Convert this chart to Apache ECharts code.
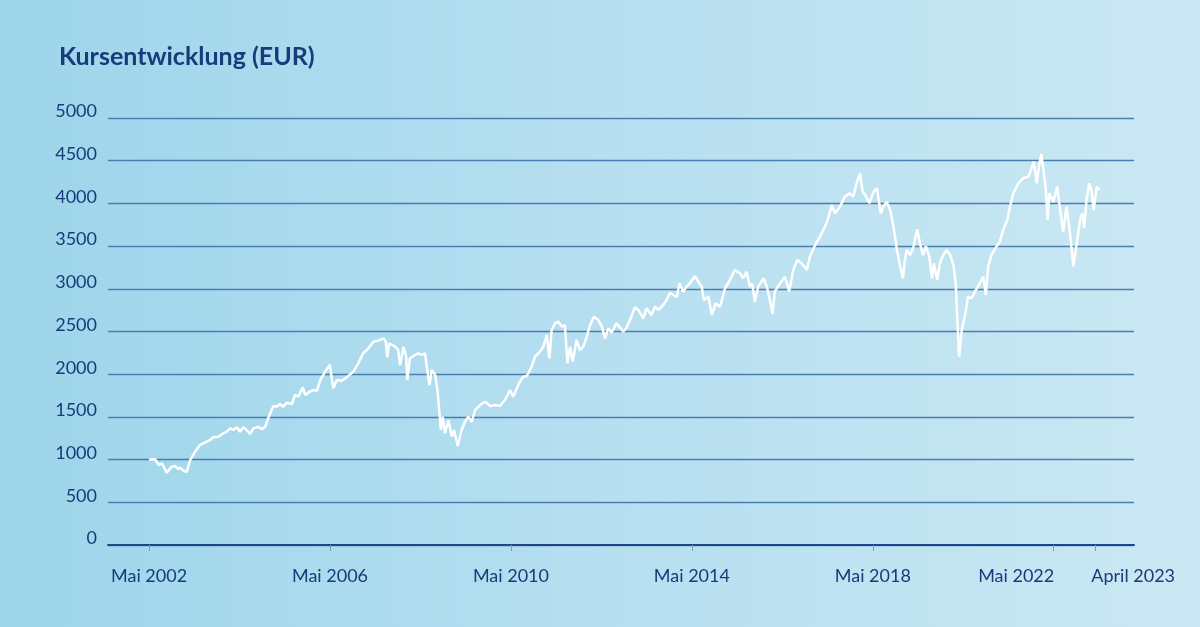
<!DOCTYPE html>
<html>
<head>
<meta charset="utf-8">
<script src="https://cdn.jsdelivr.net/npm/echarts@6/dist/echarts.min.js"></script>
<style>
  html, body { margin: 0; padding: 0; }
  #chart { width: 1200px; height: 627px; background: linear-gradient(90deg, #9dd5ea 0%, #b4def0 45%, #cae8f3 100%); }
</style>
</head>
<body>
<div id="chart"></div>
<script>
// Months since Mai 2002 (0 = Mai 2002)
const months = [
  0, 1.6, 2.5, 3.4, 4.7, 6.0, 6.9, 7.8, 8.2, 9.1, 10.0, 10.9, 12.2, 13.5, 15.3, 16.2, 17.0, 18.4, 19.7, 20.6,
  21.5, 22.4, 23.3, 24.1, 25.0, 25.9, 26.8, 27.7, 29.0, 29.9, 30.8, 31.6, 32.5, 33.0, 33.9, 34.7, 35.6, 36.5, 37.9, 38.7,
  39.6, 40.8, 41.4, 42.7, 43.6, 44.5, 45.4, 46.7, 48.0, 48.5, 48.9, 49.8, 51.1, 52.4, 54.2, 55.5, 56.8, 58.2, 59.5, 60.8,
  62.2, 62.8, 63.2, 63.7, 65.3, 66.1, 66.6, 67.5, 68.2, 68.5, 69.2, 70.6, 71.4, 72.3, 73.2, 73.8, 74.4, 75.0, 75.9, 76.5,
  77.0, 77.4, 77.9, 78.5, 79.4, 80.3, 80.9, 81.9, 82.9, 83.8, 84.7, 85.6, 86.5, 87.8, 89.1, 90.5, 91.8, 93.1, 94.4, 95.8,
  96.6, 98.2, 99.3, 100.2, 100.6, 101.5, 102.4, 103.7, 104.6, 105.5, 106.2, 106.8, 107.7, 108.6, 109.5, 110.3, 111.0, 111.7, 112.4, 113.4,
  114.3, 115.2, 116.1, 117.0, 118.0, 119.2, 120.1, 121.0, 121.8, 122.7, 124.0, 124.9, 125.8, 126.7, 127.6, 128.9, 129.8, 131.1, 132.0, 133.3,
  134.2, 135.1, 136.4, 137.3, 138.2, 139.1, 140.0, 140.7, 141.7, 142.6, 143.5, 144.8, 145.7, 146.6, 147.2, 148.4, 149.3, 150.3, 151.5, 152.8,
  154.1, 155.4, 156.8, 157.6, 158.5, 159.4, 160.0, 160.7, 161.6, 163.0, 163.9, 164.7, 165.4, 166.0, 167.4, 168.7, 169.8, 170.9, 172.0, 173.1,
  174.5, 175.3, 176.7, 178.0, 179.3, 180.2, 181.1, 182.0, 183.3, 184.6, 185.9, 186.8, 187.7, 188.6, 189.3, 190.0, 191.1, 192.2, 193.1, 194.1,
  194.8, 195.7, 196.6, 197.5, 198.4, 199.3, 200.0, 200.5, 201.0, 201.9, 202.8, 203.8, 204.5, 205.3, 206.1, 207.0, 207.7, 208.2, 209.1, 209.8,
  210.7, 211.6, 212.5, 213.4, 214.0, 214.4, 214.9, 215.6, 216.4, 217.3, 218.2, 219.1, 220.4, 221.3, 222.0, 222.6, 223.5, 224.8, 225.7, 226.6,
  227.7, 228.4, 229.3, 230.6, 231.9, 233.3, 234.1, 234.7, 235.5, 236.2, 236.7, 237.4, 237.9, 238.4, 238.8, 239.9, 240.9, 241.6, 242.5, 243.4,
  244.1, 244.7, 245.2, 246.1, 247.0, 247.6, 248.1, 248.7, 249.4, 250.0, 250.6, 251.4, 252.1
];
// Kurs in EUR
const prices = [
  1000, 1005, 937, 957, 847, 917, 925, 886, 910, 870, 858, 995, 1093, 1171, 1210, 1230, 1261, 1268, 1308, 1327,
  1366, 1347, 1378, 1327, 1378, 1347, 1300, 1366, 1385, 1355, 1385, 1484, 1581, 1628, 1620, 1651, 1620, 1666, 1651, 1757,
  1737, 1847, 1757, 1796, 1815, 1805, 1932, 2030, 2110, 1932, 1835, 1932, 1924, 1963, 2030, 2128, 2245, 2303, 2381, 2393,
  2420, 2381, 2198, 2362, 2322, 2283, 2108, 2322, 2205, 1932, 2186, 2225, 2245, 2225, 2245, 2049, 1874, 2049, 1991, 1815,
  1561, 1347, 1502, 1308, 1464, 1268, 1347, 1159, 1347, 1444, 1502, 1444, 1581, 1639, 1678, 1628, 1639, 1628, 1698, 1815,
  1737, 1900, 1971, 1979, 2010, 2088, 2205, 2264, 2322, 2459, 2186, 2518, 2596, 2615, 2557, 2576, 2128, 2322, 2147, 2401,
  2283, 2322, 2440, 2576, 2674, 2635, 2557, 2420, 2537, 2486, 2596, 2549, 2498, 2549, 2635, 2783, 2752, 2655, 2772, 2693,
  2791, 2752, 2810, 2869, 2954, 2927, 2900, 3065, 2966, 3025, 3065, 3150, 3083, 3025, 2869, 2908, 2693, 2830, 2791, 3006,
  3103, 3220, 3181, 3123, 3200, 3025, 3060, 2849, 3025, 3123, 3025, 2869, 2705, 2966, 3065, 3142, 2966, 3220, 3337, 3298,
  3220, 3376, 3513, 3610, 3727, 3826, 3981, 3884, 3962, 4079, 4118, 4079, 4235, 4352, 4137, 4100, 4001, 4137, 4177, 3884,
  3962, 4020, 3923, 3727, 3454, 3259, 3123, 3337, 3454, 3396, 3493, 3697, 3533, 3396, 3501, 3376, 3123, 3298, 3103, 3298,
  3396, 3454, 3396, 3279, 3065, 2674, 2205, 2518, 2674, 2908, 2889, 2966, 3065, 3142, 2927, 3259, 3396, 3493, 3552, 3688,
  3806, 3962, 4118, 4235, 4294, 4313, 4411, 4489, 4235, 4469, 4579, 4352, 4157, 3806, 4118, 4020, 4196, 3962, 3669, 3962,
  3727, 3493, 3259, 3533, 3806, 3884, 3709, 4040, 4235, 4157, 3923, 4196, 4157
];
const tickMonths = [0, 48, 96, 144, 192, 240, 251];
const tickLabels = ['Mai 2002', 'Mai 2006', 'Mai 2010', 'Mai 2014', 'Mai 2018', 'Mai 2022', 'April 2023'];
const yTicks = [0, 500, 1000, 1500, 2000, 2500, 3000, 3500, 4000, 4500, 5000];

const navy = '#173b7b';
const seriesData = months.map((m, i) => [m, prices[i]]);
const chart = echarts.init(document.getElementById('chart'), null, { renderer: 'canvas' });
const labelFont = { color: navy, fontFamily: 'Lato', fontSize: 18 };
chart.setOption({
  backgroundColor: 'transparent',
  animation: false,
  title: {
    text: 'Kursentwicklung (EUR)',
    left: 54, top: 39,
    textStyle: { color: navy, fontFamily: 'Lato', fontWeight: 'bold', fontSize: 25 }
  },
  grid: { left: 108, right: 66, top: 118, bottom: 82, containLabel: false },
  xAxis: {
    type: 'value',
    min: -10.9, max: 261.3,
    splitLine: { show: false },
    axisLine: { show: true, lineStyle: { color: '#1d4787', width: 2 } },
    axisTick: { show: true, customValues: tickMonths, length: 6, lineStyle: { color: '#7e9bbb', width: 1 } },
    axisLabel: {
      customValues: tickMonths,
      hideOverlap: false,
      showMinLabel: true, showMaxLabel: true,
      margin: 22,
      ...labelFont,
      formatter: v => {
        const i = tickMonths.indexOf(v);
        if (i < 0) return '';
        if (i === tickLabels.length - 2) return '{r|' + tickLabels[i] + '}';
        if (i === tickLabels.length - 1) return '{l|' + tickLabels[i] + '}';
        return tickLabels[i];
      },
      rich: {
        r: { ...labelFont, padding: [0, 75, 0, 0] },
        l: { ...labelFont, padding: [0, 0, 0, 76] }
      }
    }
  },
  yAxis: {
    type: 'value',
    min: 0, max: 5000, interval: 500,
    axisLine: { show: false },
    axisTick: { show: false },
    splitLine: { show: true, lineStyle: { color: '#4b7db3', width: 1.3 } },
    axisLabel: {
      margin: 11, ...labelFont,
      verticalAlign: 'bottom', lineHeight: 13,
      formatter: v => yTicks.includes(v) ? String(v) : ''
    }
  },
  series: [{
    type: 'line',
    data: seriesData,
    showSymbol: false,
    symbol: 'none',
    lineStyle: { color: '#ffffff', width: 2.5 },
    z: 5
  }]
});
</script>
</body>
</html>
